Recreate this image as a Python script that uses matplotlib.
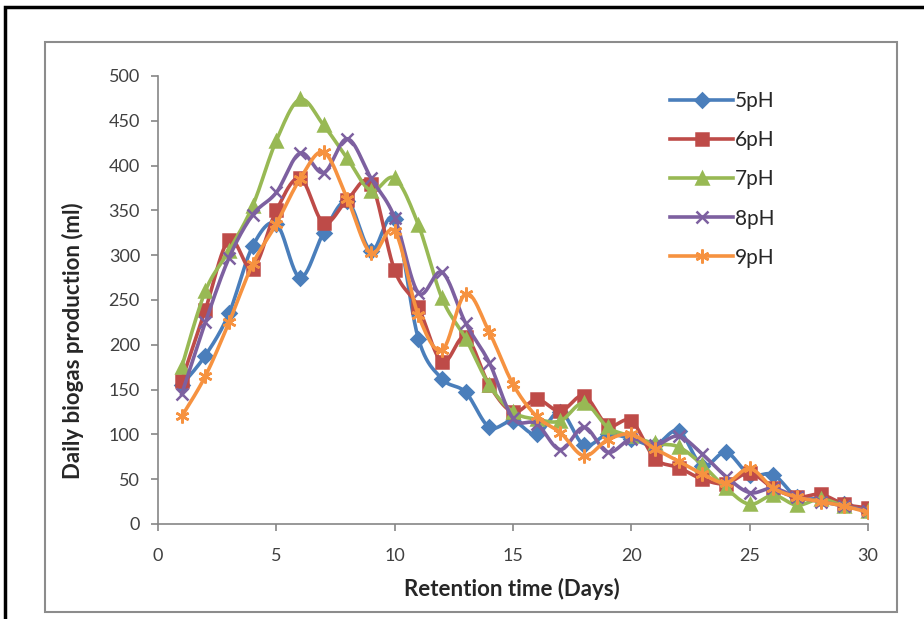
import numpy as np
import matplotlib
matplotlib.use('Agg')
import matplotlib.pyplot as plt
from matplotlib.patches import Rectangle

# dados
dias = list(range(1, 31))
ph5 = [155, 188, 235, 310, 335, 275, 325, 360, 305, 340, 207, 162, 147, 108, 115,
       100, 125, 88, 100, 95, 88, 104, 65, 80, 55, 55, 30, 28, 22, 15]
ph6 = [160, 239, 317, 285, 350, 386, 336, 362, 380, 283, 242, 181, 209, 155, 125,
       139, 126, 143, 110, 115, 73, 63, 50, 45, 57, 40, 30, 33, 22, 18]
ph7 = [175, 260, 305, 355, 428, 474, 445, 408, 372, 386, 334, 252, 207, 155, 125,
       117, 115, 135, 108, 98, 90, 86, 66, 40, 22, 32, 21, 28, 20, 15]
ph8 = [145, 225, 297, 345, 370, 414, 392, 430, 386, 342, 258, 281, 224, 180, 118,
       112, 83, 108, 80, 95, 88, 98, 78, 53, 35, 40, 30, 25, 20, 15]
ph9 = [120, 165, 225, 290, 335, 385, 415, 363, 302, 327, 233, 194, 257, 214, 156,
       120, 102, 76, 94, 100, 84, 70, 56, 46, 62, 40, 30, 25, 20, 13]
nomes = ['5pH', '6pH', '7pH', '8pH', '9pH']
cores = ['#4A7EBB', '#BE4B48', '#98B954', '#7D60A0', '#F69240']
marcas = ['D', 's', '^', 'x', (6, 2, 0)]
tamanhos = [7, 8.5, 8.5, 9, 10]

###### Funcoes ################

# curva suavizada (estilo Excel) entre os pontos
def suaviza(x, y, n=12):
    x = np.asarray(x, float)
    y = np.asarray(y, float)
    px = np.concatenate([[x[0]], x, [x[-1]]])
    py = np.concatenate([[y[0]], y, [y[-1]]])
    xs, ys = [], []
    t = np.linspace(0, 1, n, endpoint=False)
    for i in range(1, len(px) - 2):
        p0, p1, p2, p3 = [np.array([px[j], py[j]]) for j in range(i - 1, i + 3)]
        c1 = p1 + (p2 - p0) / 6.0
        c2 = p2 - (p3 - p1) / 6.0
        for tt in t:
            pt = ((1 - tt)**3) * p1 + 3 * ((1 - tt)**2) * tt * c1 + 3 * (1 - tt) * tt**2 * c2 + tt**3 * p2
            xs.append(pt[0])
            ys.append(pt[1])
    xs.append(x[-1])
    ys.append(y[-1])
    return xs, ys

################################

plt.rcParams['font.family'] = ['Lato', 'DejaVu Sans']

fig = plt.figure(figsize=(9.24, 6.19), dpi=100)

# moldura preta e moldura cinza
fig.add_artist(Rectangle((5 / 924, -0.05), 1.2, (619 - 7) / 619 + 0.05, transform=fig.transFigure,
                         fill=False, edgecolor='black', lw=2.5))
fig.add_artist(Rectangle((45 / 924, (619 - 612) / 619), (897 - 45) / 924, (612 - 42) / 619,
                         transform=fig.transFigure, fill=False, edgecolor='#8C8C8C', lw=1.5))

ax = fig.add_axes([158 / 924, (619 - 524) / 619, (868 - 158) / 924, (524 - 76) / 619])

series = [ph5, ph6, ph7, ph8, ph9]
for i in range(5):
    sx, sy = suaviza(dias, series[i])
    ax.plot(sx, sy, '-', color=cores[i], lw=2.6, zorder=2 + i)
    ax.plot(dias, series[i], linestyle='none', marker=marcas[i], ms=tamanhos[i],
            color=cores[i], mec=cores[i], mew=1.8, zorder=2 + i)
    # entrada da legenda
    ax.plot([], [], '-', color=cores[i], lw=2.6, marker=marcas[i], ms=tamanhos[i],
            mec=cores[i], mew=1.8, label=nomes[i])

ax.set_xlim(0, 30)
ax.set_ylim(0, 500)
ax.set_xticks([0, 5, 10, 15, 20, 25, 30])
ax.set_yticks(np.arange(0, 501, 50))
for s in ['top', 'right']:
    ax.spines[s].set_visible(False)
for s in ['left', 'bottom']:
    ax.spines[s].set_color('#868686')
    ax.spines[s].set_linewidth(1.2)
ax.tick_params(colors='#868686', labelcolor='#404040', labelsize=13, length=5, width=1.2)
ax.tick_params(axis='x', pad=12)
ax.tick_params(axis='y', pad=8)
ax.set_xlabel('Retention time (Days)', fontsize=16, fontweight='bold', color='#262626')
ax.set_ylabel('Daily biogas production (ml)', fontsize=16, fontweight='bold', color='#262626')
ax.xaxis.set_label_coords(0.4986, -0.12)
ax.yaxis.set_label_coords(-0.104, 0.41)

leg = ax.legend(loc='upper left', bbox_to_anchor=(0.71, 0.985), frameon=False, fontsize=15,
                handlelength=3.0, labelspacing=0.92, handletextpad=0.1, borderaxespad=0)
for t in leg.get_texts():
    t.set_color('#262626')

plt.savefig('out.png', dpi=100)
plt.close()
